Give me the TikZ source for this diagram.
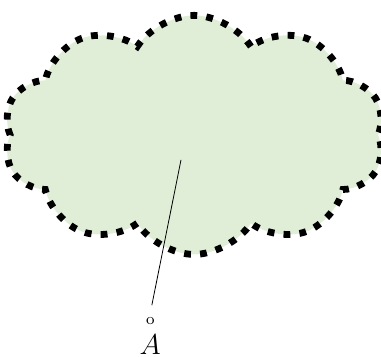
\documentclass[tikz,border=0pt]{standalone}
\usepackage{tikz}
\usetikzlibrary{shapes.symbols, positioning}
\definecolor{cloudgreen}{RGB}{224,238,215}

\begin{document}
\begin{tikzpicture}[
  puff/.style={cloud, cloud puffs=10, cloud puff arc=115, aspect=1.6, fill=cloudgreen, draw=black,
    line width=3.4pt, dash pattern=on 3.4pt off 4.6pt, minimum width=6.7cm, minimum height=4.2cm, inner sep=0pt},
  tag/.style={align=center, inner sep=2pt},
  lead/.style={draw, thin, shorten >=4pt}
]
\useasboundingbox (0,0) rectangle (6.694,-6.255);
\node[puff] (cloud) at (3.41,-2.37) {};
\coordinate (inside) at (3.18,-2.81);
\node[tag, anchor=north] (lbl) at (2.64,-5.50) {{\footnotesize o}\\[3pt]{\Large $A$}};
\draw[lead] (inside) -- (lbl.north);
\end{tikzpicture}
\end{document}
